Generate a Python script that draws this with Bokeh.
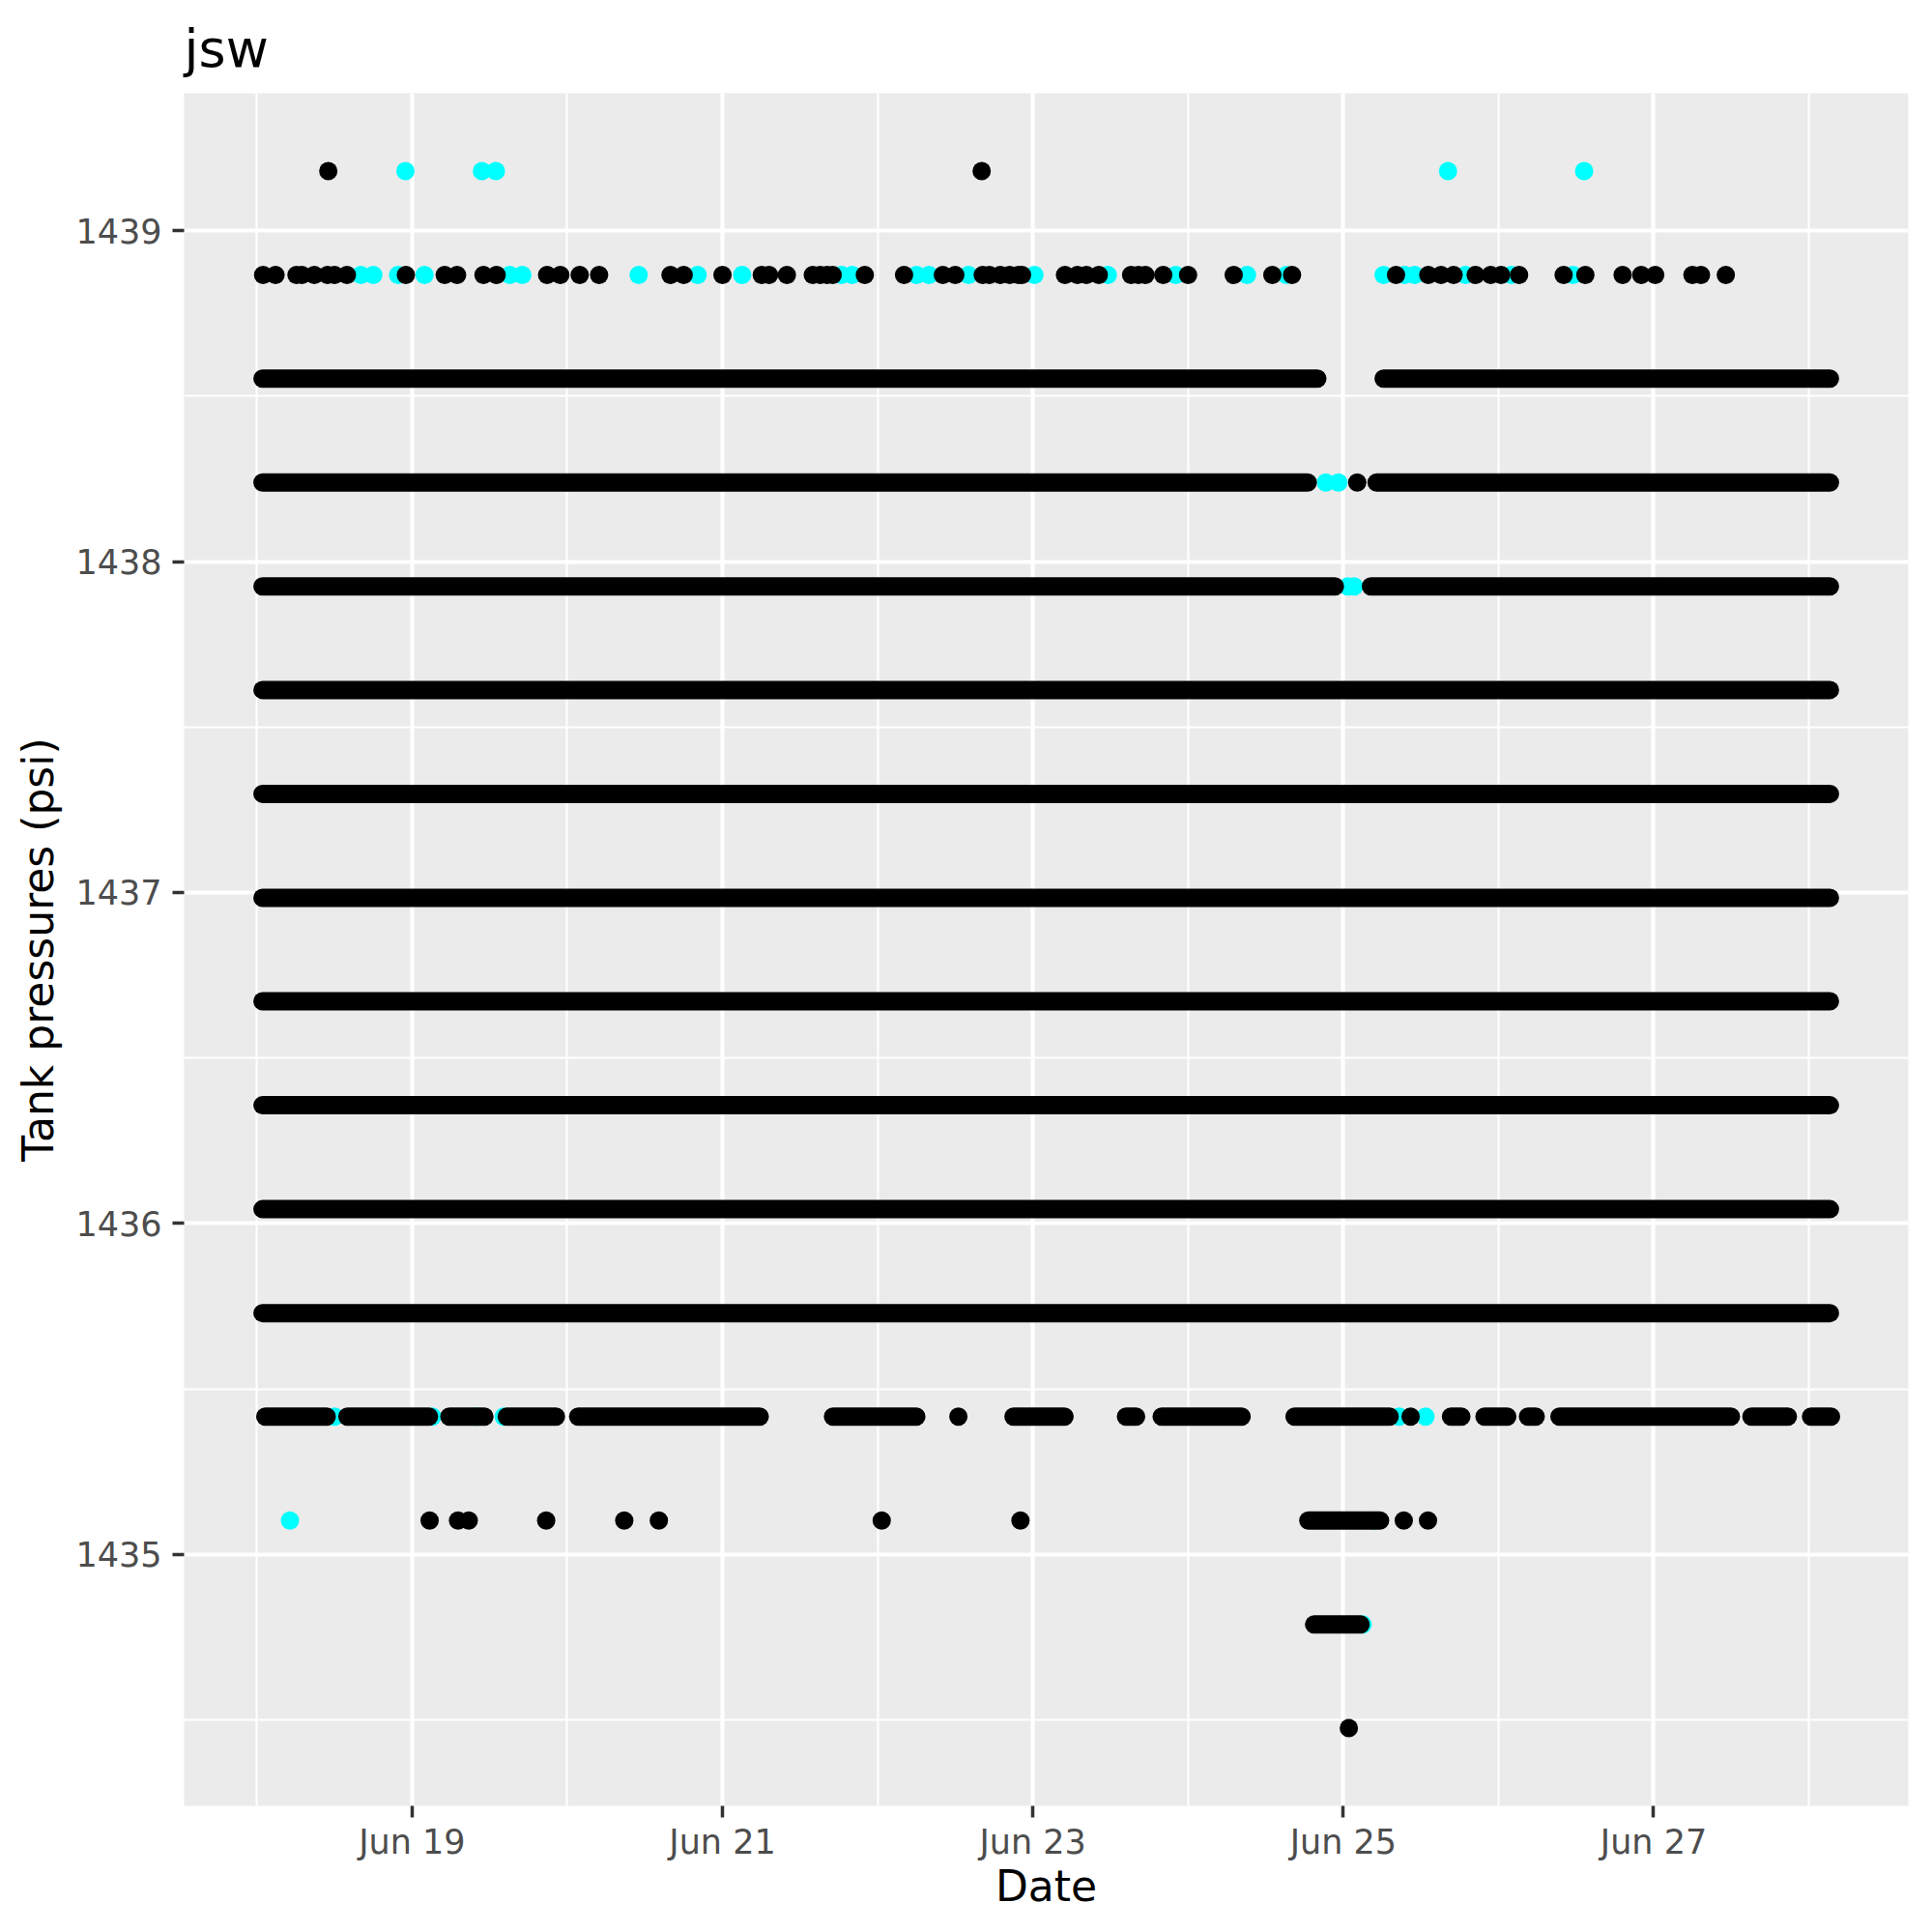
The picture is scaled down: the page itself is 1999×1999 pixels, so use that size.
import numpy as np
import pandas as pd
from bokeh.plotting import figure
from bokeh.models import Range1d, FixedTicker, DatetimeTickFormatter
from bokeh.embed import file_html
from bokeh.resources import INLINE

# ---------------- data (x values are "day of June", fractional) ----------------
TITLE = "jsw"
X_LABEL = "Date"
Y_LABEL = "Tank pressures (psi)"

x_tick_days = [19, 21, 23, 25, 27]
x_minor_days = [18, 20, 22, 24, 26, 28]
y_ticks = [1435, 1436, 1437, 1438, 1439]
y_minor = [1434.5, 1435.5, 1436.5, 1437.5, 1438.5]

# continuous (very dense) stretches of readings: level, first day, last day
black_run_level = [1438.553, 1438.553,
                   1438.239, 1438.239,
                   1437.925, 1437.925,
                   1437.612, 1437.298, 1436.984, 1436.671, 1436.357, 1436.043, 1435.729,
                   1435.416, 1435.416, 1435.416, 1435.416, 1435.416, 1435.416, 1435.416,
                   1435.416, 1435.416, 1435.416, 1435.416, 1435.416, 1435.416, 1435.416,
                   1435.416, 1435.416,
                   1435.102,
                   1434.788]
black_run_start = [18.036, 25.260,
                   18.036, 25.215,
                   18.036, 25.178,
                   18.036, 18.036, 18.036, 18.036, 18.036, 18.036, 18.036,
                   18.054, 18.583, 19.240, 19.610, 20.070, 21.712, 22.875,
                   23.600, 23.830, 24.686, 25.694, 25.910, 26.190, 26.393,
                   27.630, 28.014,
                   24.775,
                   24.812]
black_run_end = [24.833, 28.136,
                 24.771, 28.136,
                 24.946, 28.136,
                 28.136, 28.136, 28.136, 28.136, 28.136, 28.136, 28.136,
                 18.450, 19.109, 19.466, 19.927, 21.240, 22.249, 23.204,
                 23.665, 24.345, 25.299, 25.761, 26.057, 26.240, 27.498,
                 27.865, 28.143,
                 25.237,
                 25.112]

# isolated black readings per level
black_1439_180 = [18.46, 22.67]
black_1438_866 = [18.04, 18.12, 18.255, 18.29, 18.37, 18.455, 18.50, 18.58, 18.96, 19.21,
                  19.29, 19.46, 19.545, 19.87, 19.955, 20.08, 20.205, 20.665, 20.75, 21.0,
                  21.253, 21.30, 21.415, 21.582, 21.63, 21.674, 21.71, 21.917, 22.17, 22.42,
                  22.50, 22.677, 22.72, 22.79, 22.85, 22.907, 22.93, 23.207, 23.287, 23.345,
                  23.425, 23.633, 23.68, 23.725, 23.84, 24.0, 24.294, 24.543, 24.67, 25.34,
                  25.548, 25.63, 25.711, 25.853, 25.95, 26.017, 26.133, 26.42, 26.56, 26.80,
                  26.92, 27.01, 27.25, 27.305, 27.465]
black_1438_239 = [25.09]
black_1435_416 = [22.52, 25.434]
black_1435_102 = [19.113, 19.296, 19.365, 19.864, 20.367, 20.59, 22.026, 22.92, 25.39, 25.546]
black_1434_475 = [25.036]

# isolated cyan readings per level
cyan_1439_180 = [18.957, 19.45, 19.54, 25.675, 26.552]
cyan_1438_866 = [18.67, 18.75, 18.91, 19.08, 19.63, 19.71, 20.46, 20.84, 21.127, 21.767,
                 21.836, 22.25, 22.33, 22.585, 23.01, 23.483, 23.92, 24.38, 24.634, 25.26,
                 25.395, 25.46, 25.787, 26.082, 26.48]
cyan_1438_239 = [24.888, 24.969]
cyan_1437_925 = [25.03, 25.07]
cyan_1435_416 = [18.50, 19.13, 19.41, 19.59, 25.36, 25.53]
cyan_1435_102 = [18.213, 25.20]
cyan_1434_788 = [25.125]

# ---------------- helpers ----------------
BASE = pd.Timestamp("2021-06-18")


def to_dt(days):
    return BASE + pd.to_timedelta(np.asarray(days, dtype=float) - 18.0, unit="D")


def to_ms(days):
    return [int((BASE + pd.Timedelta(days=d - 18)).value // 10**6) for d in days]


def pts(groups):
    xs, ys = [], []
    for level, days in groups:
        xs.extend(days)
        ys.extend([level] * len(days))
    return to_dt(xs), ys


black_x, black_y = pts([(1439.180, black_1439_180), (1438.866, black_1438_866),
                        (1438.239, black_1438_239), (1435.416, black_1435_416),
                        (1435.102, black_1435_102), (1434.475, black_1434_475)])
cyan_x, cyan_y = pts([(1439.180, cyan_1439_180), (1438.866, cyan_1438_866),
                      (1438.239, cyan_1438_239), (1437.925, cyan_1437_925),
                      (1435.416, cyan_1435_416), (1435.102, cyan_1435_102),
                      (1434.788, cyan_1434_788)])

FONT = "DejaVu Sans"
DOT = 19

p = figure(width=1991, height=1991, x_axis_type="datetime",
           output_backend="svg", toolbar_location=None,
           x_range=Range1d(to_dt([17.531])[0], to_dt([28.641])[0]),
           y_range=Range1d(1434.240, 1439.415),
           min_border_left=190, min_border_right=17,
           min_border_top=96, min_border_bottom=123)

p.background_fill_color = "#EBEBEB"
p.border_fill_color = "white"
p.outline_line_color = None

# cyan first, black over it
p.scatter(cyan_x, cyan_y, size=DOT, marker="circle", fill_color="#00FFFF", line_color=None)
p.segment(to_dt(black_run_start), black_run_level, to_dt(black_run_end), black_run_level,
          line_width=DOT, line_cap="round", line_color="black")
p.scatter(black_x, black_y, size=DOT, marker="circle", fill_color="black", line_color=None)

# ticks / grid
p.xaxis.ticker = FixedTicker(ticks=to_ms(x_tick_days), minor_ticks=to_ms(x_minor_days))
p.xaxis.formatter = DatetimeTickFormatter(days="%b %d", months="%b %d", hours="%b %d",
                                          hourmin="%b %d", years="%b %d")
p.yaxis.ticker = FixedTicker(ticks=y_ticks, minor_ticks=y_minor)

for g in (p.xgrid, p.ygrid):
    g.grid_line_color = "white"
    g.grid_line_width = 4.2
    g.minor_grid_line_color = "white"
    g.minor_grid_line_width = 2.1

for ax in (p.xaxis, p.yaxis):
    ax.axis_line_color = None
    ax.major_tick_line_color = "#333333"
    ax.major_tick_line_width = 3.5
    ax.major_tick_in = 0
    ax.major_tick_out = 12
    ax.minor_tick_line_color = None
    ax.major_label_text_font = FONT
    ax.major_label_text_font_size = "35px"
    ax.major_label_text_color = "#4D4D4D"
    ax.axis_label_text_font = FONT
    ax.axis_label_text_font_size = "44px"
    ax.axis_label_text_font_style = "normal"
    ax.axis_label_text_color = "black"

p.xaxis.axis_label = X_LABEL
p.yaxis.axis_label = Y_LABEL
p.xaxis.major_label_standoff = 5
p.xaxis.axis_label_standoff = -3
p.yaxis.major_label_standoff = 11
p.yaxis.axis_label_standoff = 10

p.title.text = TITLE
p.title.text_font = FONT
p.title.text_font_size = "54px"
p.title.text_font_style = "normal"
p.title.text_color = "black"
p.title.align = "left"
p.title.standoff = 30

open("out.html", "w").write(file_html(p, INLINE))
